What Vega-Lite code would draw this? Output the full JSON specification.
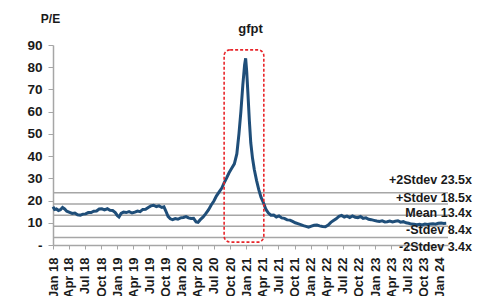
{
  "$schema": "https://vega.github.io/schema/vega-lite/v6.json",
  "width": 395,
  "height": 200,
  "autosize": {"type": "none"},
  "padding": {"left": 53, "top": 45, "right": 39, "bottom": 51},
  "config": {
    "font": "Liberation Sans",
    "view": {"stroke": null},
    "axisY": {
      "titleAngle": 0, "titleX": -3, "titleY": -27, "titleAlign": "center",
      "titleBaseline": "middle", "titleFontSize": 12, "titleFontWeight": "bold", "titleColor": "#1a1a1a",
      "grid": false, "labelOverlap": false,
      "labelFontSize": 13.5, "labelFontWeight": "bold", "labelColor": "#1a1a1a", "labelPadding": 6,
      "tickSize": 5, "tickColor": "#a6a6a6", "domainColor": "#a6a6a6", "domainWidth": 1.5
    }
  },
  "title": {"text": "gfpt", "fontSize": 13, "fontWeight": "bold", "color": "#1a1a1a", "anchor": "middle", "offset": 7, "dy": 31},
  "datasets": {
    "pe": [
      {"date": "2018-01-01", "pe": 17.2}, {"date": "2018-01-10", "pe": 16.0}, {"date": "2018-01-20", "pe": 16.2},
      {"date": "2018-02-01", "pe": 15.5}, {"date": "2018-02-12", "pe": 15.9}, {"date": "2018-02-24", "pe": 16.9},
      {"date": "2018-03-08", "pe": 16.2}, {"date": "2018-03-20", "pe": 15.2}, {"date": "2018-04-05", "pe": 14.7},
      {"date": "2018-04-20", "pe": 14.2}, {"date": "2018-05-05", "pe": 14.4}, {"date": "2018-05-20", "pe": 13.6},
      {"date": "2018-06-05", "pe": 13.4}, {"date": "2018-06-20", "pe": 13.9}, {"date": "2018-07-05", "pe": 14.0},
      {"date": "2018-07-20", "pe": 14.6}, {"date": "2018-08-05", "pe": 14.6}, {"date": "2018-08-20", "pe": 15.2},
      {"date": "2018-09-05", "pe": 15.3}, {"date": "2018-09-20", "pe": 16.2}, {"date": "2018-10-05", "pe": 16.3},
      {"date": "2018-10-20", "pe": 15.8}, {"date": "2018-11-05", "pe": 16.3}, {"date": "2018-11-20", "pe": 15.6},
      {"date": "2018-12-05", "pe": 15.5}, {"date": "2018-12-20", "pe": 14.6}, {"date": "2018-12-31", "pe": 13.3},
      {"date": "2019-01-10", "pe": 12.6}, {"date": "2019-01-22", "pe": 14.2}, {"date": "2019-02-05", "pe": 14.8},
      {"date": "2019-02-20", "pe": 14.6}, {"date": "2019-03-08", "pe": 15.0}, {"date": "2019-03-25", "pe": 14.4},
      {"date": "2019-04-10", "pe": 14.8}, {"date": "2019-04-25", "pe": 15.3}, {"date": "2019-05-10", "pe": 15.0},
      {"date": "2019-05-25", "pe": 16.0}, {"date": "2019-06-10", "pe": 16.1}, {"date": "2019-06-25", "pe": 16.9},
      {"date": "2019-07-10", "pe": 17.6}, {"date": "2019-07-25", "pe": 17.9}, {"date": "2019-08-10", "pe": 17.3},
      {"date": "2019-08-25", "pe": 17.6}, {"date": "2019-09-10", "pe": 16.9}, {"date": "2019-09-22", "pe": 17.2},
      {"date": "2019-10-02", "pe": 15.4}, {"date": "2019-10-15", "pe": 12.9}, {"date": "2019-10-28", "pe": 11.8},
      {"date": "2019-11-10", "pe": 11.4}, {"date": "2019-11-25", "pe": 11.9}, {"date": "2019-12-10", "pe": 11.6},
      {"date": "2019-12-25", "pe": 12.2}, {"date": "2020-01-10", "pe": 12.4}, {"date": "2020-01-25", "pe": 12.8},
      {"date": "2020-02-08", "pe": 12.2}, {"date": "2020-02-22", "pe": 11.9}, {"date": "2020-03-08", "pe": 12.0},
      {"date": "2020-03-22", "pe": 10.4}, {"date": "2020-04-02", "pe": 10.2}, {"date": "2020-04-15", "pe": 11.4},
      {"date": "2020-04-30", "pe": 12.5}, {"date": "2020-05-15", "pe": 14.0}, {"date": "2020-06-01", "pe": 15.9},
      {"date": "2020-06-15", "pe": 17.9}, {"date": "2020-07-01", "pe": 19.8}, {"date": "2020-07-15", "pe": 22.0},
      {"date": "2020-08-01", "pe": 24.0}, {"date": "2020-08-15", "pe": 25.6}, {"date": "2020-08-28", "pe": 28.0},
      {"date": "2020-09-10", "pe": 30.0}, {"date": "2020-09-25", "pe": 32.5}, {"date": "2020-10-10", "pe": 34.5},
      {"date": "2020-10-25", "pe": 36.5}, {"date": "2020-11-08", "pe": 41.0}, {"date": "2020-11-20", "pe": 50.0},
      {"date": "2020-12-01", "pe": 60.0}, {"date": "2020-12-12", "pe": 72.0}, {"date": "2020-12-22", "pe": 81.0},
      {"date": "2020-12-28", "pe": 84.0}, {"date": "2021-01-03", "pe": 78.0}, {"date": "2021-01-10", "pe": 68.0},
      {"date": "2021-01-18", "pe": 56.0}, {"date": "2021-01-26", "pe": 46.0}, {"date": "2021-02-05", "pe": 39.0},
      {"date": "2021-02-15", "pe": 34.0}, {"date": "2021-02-28", "pe": 29.0}, {"date": "2021-03-12", "pe": 25.0},
      {"date": "2021-03-25", "pe": 21.5}, {"date": "2021-04-09", "pe": 18.8}, {"date": "2021-04-22", "pe": 16.0},
      {"date": "2021-05-06", "pe": 14.4}, {"date": "2021-05-20", "pe": 13.4}, {"date": "2021-06-05", "pe": 13.5},
      {"date": "2021-06-20", "pe": 12.6}, {"date": "2021-07-05", "pe": 13.1}, {"date": "2021-07-20", "pe": 12.2},
      {"date": "2021-08-05", "pe": 12.0}, {"date": "2021-08-20", "pe": 11.3}, {"date": "2021-09-05", "pe": 11.2},
      {"date": "2021-09-20", "pe": 10.6}, {"date": "2021-10-05", "pe": 10.0}, {"date": "2021-10-20", "pe": 9.6},
      {"date": "2021-11-05", "pe": 9.2}, {"date": "2021-11-20", "pe": 8.7}, {"date": "2021-12-05", "pe": 8.4},
      {"date": "2021-12-20", "pe": 8.0}, {"date": "2022-01-05", "pe": 8.5}, {"date": "2022-01-20", "pe": 8.9},
      {"date": "2022-02-05", "pe": 9.0}, {"date": "2022-02-20", "pe": 8.6}, {"date": "2022-03-08", "pe": 8.3},
      {"date": "2022-03-25", "pe": 8.2}, {"date": "2022-04-10", "pe": 9.0}, {"date": "2022-04-25", "pe": 10.2},
      {"date": "2022-05-10", "pe": 11.0}, {"date": "2022-05-25", "pe": 11.8}, {"date": "2022-06-10", "pe": 12.9},
      {"date": "2022-06-25", "pe": 13.3}, {"date": "2022-07-10", "pe": 12.6}, {"date": "2022-07-25", "pe": 13.0},
      {"date": "2022-08-10", "pe": 12.4}, {"date": "2022-08-25", "pe": 13.1}, {"date": "2022-09-10", "pe": 12.5},
      {"date": "2022-09-25", "pe": 12.3}, {"date": "2022-10-10", "pe": 12.8}, {"date": "2022-10-25", "pe": 12.0},
      {"date": "2022-11-10", "pe": 12.2}, {"date": "2022-11-25", "pe": 11.6}, {"date": "2022-12-10", "pe": 11.4},
      {"date": "2022-12-25", "pe": 11.1}, {"date": "2023-01-10", "pe": 10.8}, {"date": "2023-01-25", "pe": 10.6},
      {"date": "2023-02-10", "pe": 10.9}, {"date": "2023-02-25", "pe": 10.4}, {"date": "2023-03-10", "pe": 10.5},
      {"date": "2023-03-25", "pe": 10.8}, {"date": "2023-04-10", "pe": 10.4}, {"date": "2023-04-25", "pe": 10.7},
      {"date": "2023-05-10", "pe": 10.9}, {"date": "2023-05-25", "pe": 10.3}, {"date": "2023-06-10", "pe": 10.5},
      {"date": "2023-06-25", "pe": 10.0}, {"date": "2023-07-10", "pe": 9.8}, {"date": "2023-07-25", "pe": 9.4},
      {"date": "2023-08-10", "pe": 9.3}, {"date": "2023-08-25", "pe": 9.1}, {"date": "2023-09-10", "pe": 9.3},
      {"date": "2023-09-25", "pe": 9.0}, {"date": "2023-10-10", "pe": 9.4}, {"date": "2023-10-25", "pe": 9.2},
      {"date": "2023-11-10", "pe": 9.5}, {"date": "2023-11-25", "pe": 9.6}, {"date": "2023-12-10", "pe": 9.4},
      {"date": "2023-12-25", "pe": 9.8}, {"date": "2024-01-10", "pe": 9.9}, {"date": "2024-01-25", "pe": 9.7},
      {"date": "2024-02-08", "pe": 9.8}
    ],
    "bands": [
      {"name": "+2Stdev", "value": 23.5, "label": "+2Stdev 23.5x"},
      {"name": "+Stdev", "value": 18.5, "label": "+Stdev 18.5x"},
      {"name": "Mean", "value": 13.4, "label": "Mean 13.4x"},
      {"name": "-Stdev", "value": 8.4, "label": "-Stdev 8.4x"},
      {"name": "-2Stdev", "value": 3.4, "label": "-2Stdev 3.4x"}
    ],
    "box": [
      {"start": "2020-08-28", "end": "2021-04-10", "low": 1.3, "high": 87.8}
    ]
  },
  "layer": [
    {
      "data": {"name": "bands"},
      "mark": {"type": "rule", "color": "#a6a6a6", "strokeWidth": 1.5},
      "encoding": {
        "y": {"field": "value", "type": "quantitative", "scale": {"domain": [0, 90]},
          "axis": {"title": "P/E", "values": [0, 10, 20, 30, 40, 50, 60, 70, 80, 90], "labelExpr": "datum.value == 0 ? '-' : datum.label"}}
      }
    },
    {
      "data": {"name": "pe"},
      "mark": {"type": "line", "color": "#1f4e79", "strokeWidth": 3, "interpolate": "linear"},
      "encoding": {
        "x": {
          "field": "date", "type": "temporal",
          "scale": {"domain": ["2018-01-01", "2024-02-18"]},
          "axis": {
            "title": null, "grid": false, "format": "%b %y",
            "tickCount": {"interval": "month", "step": 3},
            "labelAngle": 270, "labelFontSize": 13, "labelFontWeight": "bold", "labelColor": "#1a1a1a",
            "labelPadding": 8, "labelOverlap": false, "labelFlush": false,
            "tickSize": 4, "tickColor": "#a6a6a6", "domainColor": "#a6a6a6", "domainWidth": 1.5
          }
        },
        "y": {"field": "pe", "type": "quantitative", "scale": {"domain": [0, 90]},
          "axis": {"title": "P/E", "values": [0, 10, 20, 30, 40, 50, 60, 70, 80, 90], "labelExpr": "datum.value == 0 ? '-' : datum.label"}}
      }
    },
    {
      "data": {"name": "box"},
      "mark": {"type": "rect", "fill": null, "fillOpacity": 0, "stroke": "#e8262b", "strokeWidth": 1.6, "strokeDash": [3, 2], "cornerRadius": 6},
      "encoding": {
        "x": {"field": "start", "type": "temporal"},
        "x2": {"field": "end"},
        "y": {"field": "low", "type": "quantitative",
          "axis": {"title": "P/E", "values": [0, 10, 20, 30, 40, 50, 60, 70, 80, 90], "labelExpr": "datum.value == 0 ? '-' : datum.label"}},
        "y2": {"field": "high"}
      }
    },
    {
      "data": {"name": "bands"},
      "transform": [{"filter": "datum.name == '+2Stdev'"}],
      "mark": {"type": "text", "align": "right", "baseline": "middle", "dx": 24, "dy": -13, "fontSize": 12.5, "fontWeight": "bold", "color": "#1a1a1a"},
      "encoding": {"x": {"datum": {"year": 2024, "month": 2, "date": 18}, "type": "temporal"}, "y": {"field": "value", "type": "quantitative", "axis": {"title": "P/E", "values": [0, 10, 20, 30, 40, 50, 60, 70, 80, 90], "labelExpr": "datum.value == 0 ? '-' : datum.label"}}, "text": {"field": "label"}}
    },
    {
      "data": {"name": "bands"},
      "transform": [{"filter": "datum.name == '+Stdev'"}],
      "mark": {"type": "text", "align": "right", "baseline": "middle", "dx": 24, "dy": -6, "fontSize": 12.5, "fontWeight": "bold", "color": "#1a1a1a"},
      "encoding": {"x": {"datum": {"year": 2024, "month": 2, "date": 18}, "type": "temporal"}, "y": {"field": "value", "type": "quantitative", "axis": {"title": "P/E", "values": [0, 10, 20, 30, 40, 50, 60, 70, 80, 90], "labelExpr": "datum.value == 0 ? '-' : datum.label"}}, "text": {"field": "label"}}
    },
    {
      "data": {"name": "bands"},
      "transform": [{"filter": "datum.name == 'Mean'"}],
      "mark": {"type": "text", "align": "right", "baseline": "middle", "dx": 24, "dy": -2, "fontSize": 12.5, "fontWeight": "bold", "color": "#1a1a1a"},
      "encoding": {"x": {"datum": {"year": 2024, "month": 2, "date": 18}, "type": "temporal"}, "y": {"field": "value", "type": "quantitative", "axis": {"title": "P/E", "values": [0, 10, 20, 30, 40, 50, 60, 70, 80, 90], "labelExpr": "datum.value == 0 ? '-' : datum.label"}}, "text": {"field": "label"}}
    },
    {
      "data": {"name": "bands"},
      "transform": [{"filter": "datum.name == '-Stdev'"}],
      "mark": {"type": "text", "align": "right", "baseline": "middle", "dx": 24, "dy": 4, "fontSize": 12.5, "fontWeight": "bold", "color": "#1a1a1a"},
      "encoding": {"x": {"datum": {"year": 2024, "month": 2, "date": 18}, "type": "temporal"}, "y": {"field": "value", "type": "quantitative", "axis": {"title": "P/E", "values": [0, 10, 20, 30, 40, 50, 60, 70, 80, 90], "labelExpr": "datum.value == 0 ? '-' : datum.label"}}, "text": {"field": "label"}}
    },
    {
      "data": {"name": "bands"},
      "transform": [{"filter": "datum.name == '-2Stdev'"}],
      "mark": {"type": "text", "align": "right", "baseline": "middle", "dx": 24, "dy": 10, "fontSize": 12.5, "fontWeight": "bold", "color": "#1a1a1a"},
      "encoding": {"x": {"datum": {"year": 2024, "month": 2, "date": 18}, "type": "temporal"}, "y": {"field": "value", "type": "quantitative", "axis": {"title": "P/E", "values": [0, 10, 20, 30, 40, 50, 60, 70, 80, 90], "labelExpr": "datum.value == 0 ? '-' : datum.label"}}, "text": {"field": "label"}}
    }
  ]
}
